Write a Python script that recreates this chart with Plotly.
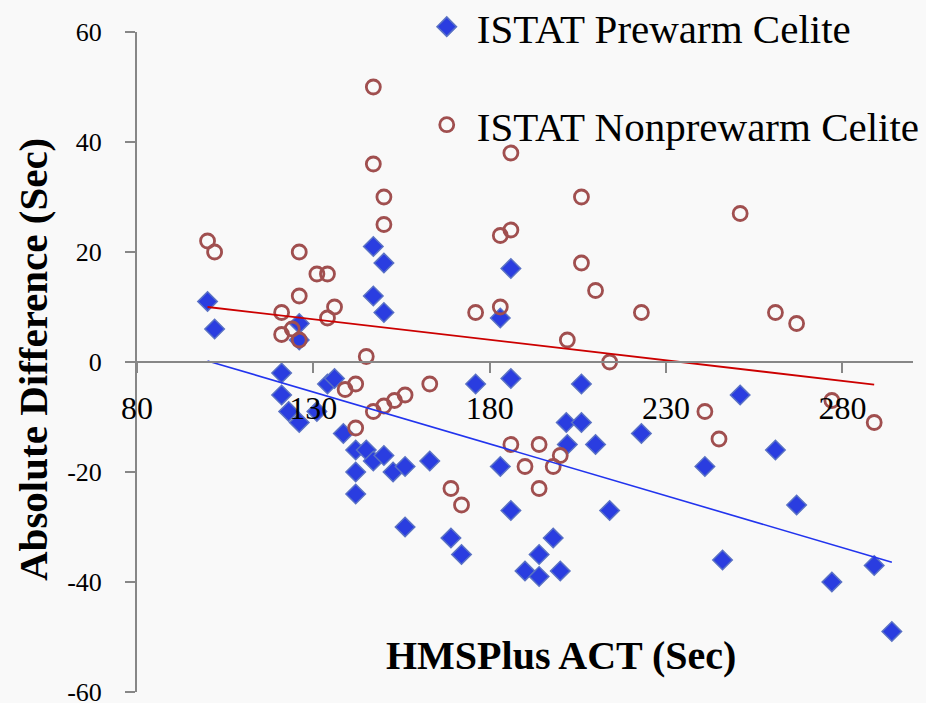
import plotly.graph_objects as go

# HMSPlus ACT (Sec) vs Absolute Difference (Sec)
prewarm_x = [100, 102, 121, 121, 123, 126, 126, 126, 131, 134, 136, 138.5, 142, 145, 147, 150,
             152.6, 156, 163, 142, 142, 156, 169, 172, 186, 198, 194, 190, 194, 200, 214, 176,
             186, 206, 201.7, 206, 202, 210, 223, 183, 241, 261, 267, 246, 277, 289, 294, 251,
             147, 150, 147, 150, 186, 183]
prewarm_y = [11, 6, -2, -6, -9, -11, 7, 4, -9, -4, -3, -13, -16, -16, -18, -17,
             -20, -19, -18, -20, -24, -30, -32, -35, -27, -32, -35, -38, -39, -38, -27, -4,
             -3, -4, -11, -11, -15, -15, -13, -19, -19, -16, -26, -36, -40, -37, -49, -6,
             21, 18, 12, 9, 17, 8]

nonprewarm_x = [100, 102, 126, 131, 134, 126, 121, 136, 134, 121, 124, 126, 145, 150, 147, 147,
                150, 139, 142, 147, 150, 153, 156, 163, 142, 169, 172, 186, 194, 190, 198, 200,
                194, 214, 241, 245, 186, 206, 186, 183, 206, 210, 176, 183, 223, 202, 251, 261,
                267, 277, 289]
nonprewarm_y = [22, 20, 20, 16, 16, 12, 9, 10, 8, 5, 6, 4, 1, 25, 50, 36,
                30, -5, -4, -9, -8, -7, -6, -4, -12, -23, -26, -15, -15, -19, -19, -17,
                -23, 0, -9, -14, 38, 30, 24, 23, 18, 13, 9, 10, 9, 4, 27, 9,
                7, -7, -11]

# Linear trend lines (endpoints)
trend_prewarm_x = [100, 294]
trend_prewarm_y = [0.2, -36.4]
trend_nonprewarm_x = [100, 289]
trend_nonprewarm_y = [10.0, -4.1]

x_ticks = [80, 130, 180, 230, 280]
x_tick_labels = ["80", "130", "180", "230", "280"]
y_ticks = [-60, -40, -20, 0, 20, 40, 60]
y_tick_labels = ["-60", "-40", "-20", "0", "20", "40", "60"]

FONT = "Liberation Serif"
AXIS_GREY = "#878787"

fig = go.Figure()
fig.add_trace(go.Scatter(
    x=prewarm_x, y=prewarm_y, mode="markers", name="ISTAT Prewarm Celite",
    marker=dict(symbol="diamond", size=15, color="#2a3de0",
                line=dict(color="#5a72c4", width=1.5)),
    legend="legend"))
fig.add_trace(go.Scatter(
    x=nonprewarm_x, y=nonprewarm_y, mode="markers", name="ISTAT Nonprewarm Celite",
    marker=dict(symbol="circle-open", size=14, color="#a04f4f",
                line=dict(color="#a04f4f", width=2.8)),
    legend="legend2"))
fig.add_trace(go.Scatter(
    x=trend_prewarm_x, y=trend_prewarm_y, mode="lines", showlegend=False,
    line=dict(color="#2234ee", width=1.6), hoverinfo="skip"))
fig.add_trace(go.Scatter(
    x=trend_nonprewarm_x, y=trend_nonprewarm_y, mode="lines", showlegend=False,
    line=dict(color="#cc0000", width=1.8), hoverinfo="skip"))

fig.update_layout(
    width=926, height=703,
    margin=dict(l=137, r=12.7, t=32, b=11.3, pad=0, autoexpand=False),
    paper_bgcolor="#f9f9f9", plot_bgcolor="rgba(0,0,0,0)",
    font=dict(family=FONT, color="black"),
    xaxis=dict(range=[80, 300], tickvals=x_ticks, ticktext=x_tick_labels,
               showgrid=False, zeroline=False,
               showline=True, linecolor=AXIS_GREY, linewidth=2,
               ticks="outside", ticklen=10, tickwidth=2, tickcolor=AXIS_GREY,
               anchor="free", position=0.5, tickfont=dict(size=32, family=FONT),
               ticklabelstandoff=8, ticklabeloverflow="allow"),
    yaxis=dict(range=[-60, 60], tickvals=y_ticks, ticktext=y_tick_labels,
               showgrid=False, zeroline=False,
               showline=True, linecolor=AXIS_GREY, linewidth=2,
               ticks="outside", ticklen=10, tickwidth=2, tickcolor=AXIS_GREY,
               tickfont=dict(size=26, family=FONT), ticklabelstandoff=18,
               ticklabeloverflow="allow"),
    legend=dict(x=0.3605, y=1.0076, xanchor="left", yanchor="middle", itemwidth=50,
                bgcolor="rgba(0,0,0,0)", font=dict(size=41, family=FONT)),
    legend2=dict(x=0.3605, y=0.859, xanchor="left", yanchor="middle", itemwidth=50,
                 bgcolor="rgba(0,0,0,0)", font=dict(size=41, family=FONT)),
    annotations=[
        dict(text="<b>Absolute Difference (Sec)</b>", xref="paper", yref="paper",
             x=-0.134, y=0.503, textangle=-90, showarrow=False,
             font=dict(size=41, family=FONT), xanchor="center", yanchor="middle"),
        dict(text="<b>HMSPlus ACT (Sec)</b>", xref="paper", yref="paper",
             x=0.546, y=0.056, showarrow=False,
             font=dict(size=40, family=FONT), xanchor="center", yanchor="middle"),
    ],
)

fig.write_html("out.html",
               config={"displayModeBar": False},
               post_script="document.body.style.margin='0';document.body.style.background='#f9f9f9';")
